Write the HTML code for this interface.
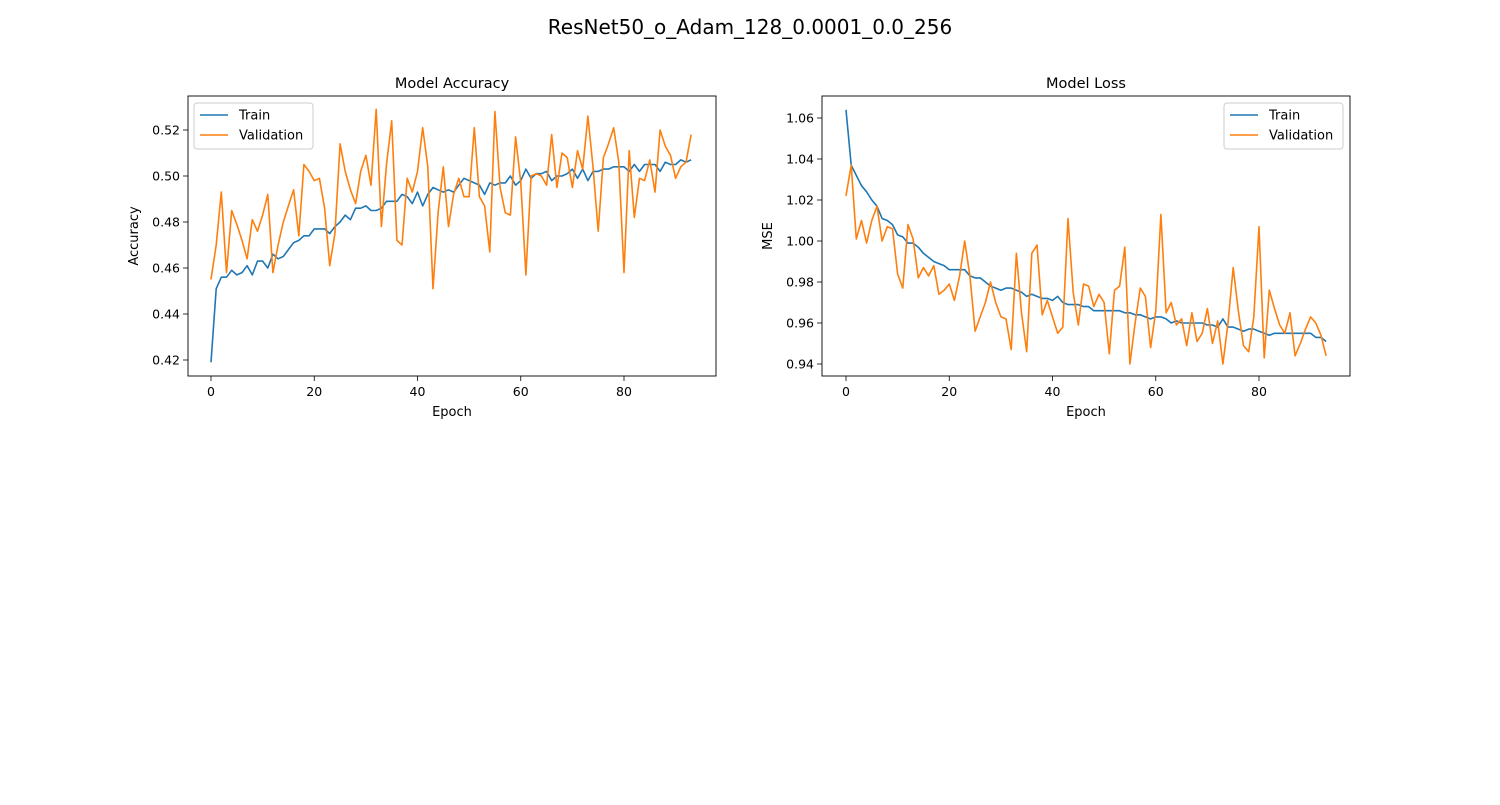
<!DOCTYPE html>
<html><head><meta charset="utf-8"><style>
body{margin:0;background:#fff;font-family:"Liberation Sans","DejaVu Sans",sans-serif}
svg text{font-family:"DejaVu Sans","Liberation Sans",sans-serif}
</style></head><body>
<svg id="fig" width="1500" height="800">
<text x="750" y="34" font-size="20" text-anchor="middle">ResNet50_o_Adam_128_0.0001_0.0_256</text>
</svg>
<script>
const epochTicks=[0,20,40,60,80];
const accTicks=[0.42,0.44,0.46,0.48,0.50,0.52];
const lossTicks=[0.94,0.96,0.98,1.00,1.02,1.04,1.06];
const accTrain=[0.419,0.451,0.456,0.456,0.459,0.457,0.458,0.461,0.457,0.463,0.463,0.460,0.466,0.464,0.465,0.468,0.471,0.472,0.474,0.474,0.477,0.477,0.477,0.475,0.478,0.480,0.483,0.481,0.486,0.486,0.487,0.485,0.485,0.486,0.489,0.489,0.489,0.492,0.491,0.488,0.493,0.487,0.492,0.495,0.494,0.493,0.494,0.493,0.496,0.499,0.498,0.497,0.496,0.492,0.497,0.496,0.497,0.497,0.500,0.496,0.498,0.503,0.499,0.501,0.501,0.502,0.498,0.500,0.500,0.501,0.503,0.499,0.503,0.498,0.502,0.502,0.503,0.503,0.504,0.504,0.504,0.502,0.505,0.502,0.505,0.505,0.505,0.502,0.506,0.505,0.505,0.507,0.506,0.507];
const accVal=[0.455,0.470,0.493,0.458,0.485,0.479,0.472,0.464,0.481,0.476,0.483,0.492,0.458,0.470,0.480,0.487,0.494,0.474,0.505,0.502,0.498,0.499,0.486,0.461,0.475,0.514,0.502,0.494,0.488,0.502,0.509,0.496,0.529,0.478,0.505,0.524,0.472,0.470,0.499,0.493,0.502,0.521,0.504,0.451,0.484,0.504,0.478,0.492,0.499,0.491,0.491,0.521,0.491,0.487,0.467,0.528,0.495,0.484,0.483,0.517,0.497,0.457,0.500,0.501,0.500,0.496,0.518,0.495,0.510,0.508,0.495,0.511,0.503,0.526,0.504,0.476,0.508,0.514,0.521,0.506,0.458,0.511,0.482,0.499,0.498,0.507,0.493,0.520,0.513,0.509,0.499,0.504,0.506,0.518];
const lossTrain=[1.064,1.037,1.032,1.027,1.024,1.020,1.017,1.011,1.010,1.008,1.003,1.002,0.999,0.999,0.997,0.994,0.992,0.990,0.989,0.988,0.986,0.986,0.986,0.986,0.983,0.982,0.982,0.980,0.978,0.977,0.976,0.977,0.977,0.976,0.975,0.973,0.974,0.973,0.972,0.972,0.971,0.973,0.970,0.969,0.969,0.969,0.968,0.968,0.966,0.966,0.966,0.966,0.966,0.966,0.965,0.965,0.964,0.964,0.963,0.962,0.963,0.963,0.962,0.960,0.961,0.960,0.960,0.960,0.960,0.960,0.959,0.959,0.958,0.962,0.958,0.958,0.957,0.956,0.957,0.957,0.956,0.955,0.954,0.955,0.955,0.955,0.955,0.955,0.955,0.955,0.955,0.953,0.953,0.951];
const lossVal=[1.022,1.037,1.001,1.010,0.999,1.010,1.017,1.000,1.007,1.006,0.984,0.977,1.008,1.001,0.982,0.987,0.983,0.988,0.974,0.976,0.979,0.971,0.983,1.000,0.983,0.956,0.963,0.970,0.980,0.970,0.963,0.962,0.947,0.994,0.965,0.946,0.994,0.998,0.964,0.971,0.963,0.955,0.958,1.011,0.975,0.959,0.979,0.978,0.968,0.974,0.970,0.945,0.976,0.978,0.997,0.940,0.960,0.977,0.973,0.948,0.966,1.013,0.965,0.970,0.959,0.962,0.949,0.965,0.951,0.955,0.967,0.950,0.961,0.940,0.960,0.987,0.966,0.949,0.946,0.963,1.007,0.943,0.976,0.967,0.959,0.955,0.965,0.944,0.950,0.957,0.963,0.960,0.954,0.944];

const NS="http://www.w3.org/2000/svg";
const fig=document.getElementById('fig');
function mk(tag,attrs,parent){const e=document.createElementNS(NS,tag);for(const k in attrs)e.setAttribute(k,attrs[k]);(parent||fig).appendChild(e);return e;}

function panel(o){
  const g=mk('g',{});
  
  
  const X=v=>o.x0+(v-0)*(o.x80-o.x0)/80;
  const Y=v=>o.yA+(v-o.vA)*(o.yB-o.yA)/(o.vB-o.vA);
  const t=mk('text',{x:(o.L+o.R)/2,y:88,'font-size':14.5,'text-anchor':'middle'},g);t.textContent=o.title;
  
  
  epochTicks.forEach(v=>{
    mk('line',{x1:X(v),x2:X(v),y1:376,y2:381,stroke:'#000','stroke-width':0.8},g);
    const l=mk('text',{x:X(v),y:396,'font-size':12.5,'text-anchor':'middle'},g);l.textContent=v;
    
    
  });
  o.ticks.forEach(v=>{
    mk('line',{x1:o.L-5,x2:o.L,y1:Y(v),y2:Y(v),stroke:'#000','stroke-width':0.8},g);
    const l=mk('text',{x:o.L-8,y:Y(v)+4.5,'font-size':12.5,'text-anchor':'end'},g);l.textContent=v.toFixed(2);
    
    
  });
  const xl=mk('text',{x:(o.L+o.R)/2,y:416,'font-size':13,'text-anchor':'middle'},g);xl.textContent='Epoch';
  
  
  const yl=mk('text',{x:0,y:0,'font-size':13,'text-anchor':'middle',transform:`translate(${o.L-50},236) rotate(-90)`},g);yl.textContent=o.ylabel;
  
  
  [[o.train,'#1f77b4','train-line'],[o.val,'#ff7f0e','validation-line']].forEach(([d,c,n])=>{
    const p=mk('polyline',{points:d.map((v,i)=>X(i).toFixed(1)+','+Y(v).toFixed(1)).join(' '),fill:'none',stroke:c,'stroke-width':1.6,'stroke-linejoin':'round'},g);
    
    
  });
  mk('rect',{x:o.L,y:96,width:o.R-o.L,height:280,fill:'none',stroke:'#000','stroke-width':0.9},g);
  const lg=mk('g',{},g);
  
  
  mk('rect',{x:o.lx,y:103,width:119,height:46,rx:3,fill:'#fff',stroke:'#ccc','stroke-width':1},lg);
  [['Train','#1f77b4',115],['Validation','#ff7f0e',135]].forEach(([s,c,y])=>{
    mk('line',{x1:o.lx+6,x2:o.lx+34,y1:y,y2:y,stroke:c,'stroke-width':1.6},lg);
    const e=mk('text',{x:o.lx+45,y:y+4.5,'font-size':13},lg);e.textContent=s;
    
    
  });
}
panel({name:'accuracy-chart',title:'Model Accuracy',ylabel:'Accuracy',L:188,R:716,x0:211,x80:624,vA:0.52,yA:130,vB:0.42,yB:360,ticks:accTicks,train:accTrain,val:accVal,lx:194});
panel({name:'loss-chart',title:'Model Loss',ylabel:'MSE',L:822,R:1350,x0:846,x80:1259,vA:1.06,yA:118,vB:0.94,yB:364,ticks:lossTicks,train:lossTrain,val:lossVal,lx:1224});
</script>
</body></html>
